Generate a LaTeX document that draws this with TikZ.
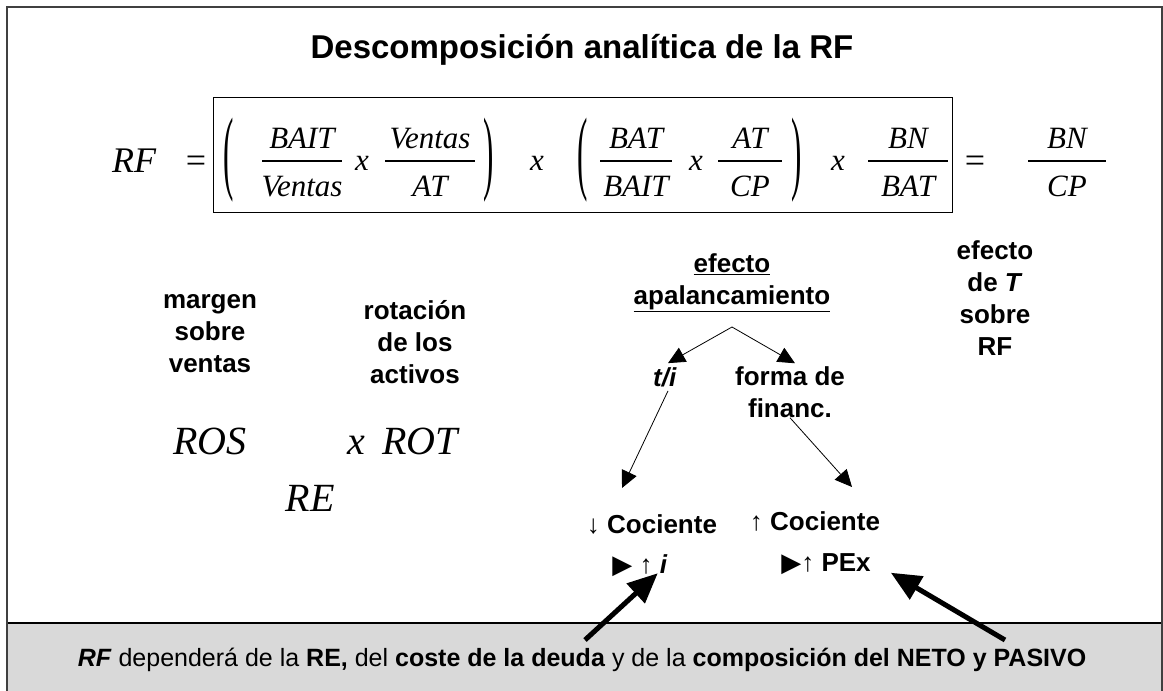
\documentclass[tikz,border=0pt]{standalone}
\usepackage{fontspec}
\setmainfont{Liberation Sans}
\newfontfamily\tms{Liberation Serif}
\newfontfamily\djv{DejaVu Sans}
\usetikzlibrary{arrows.meta}
\definecolor{bandgray}{HTML}{D9D9D9}
\definecolor{framegray}{HTML}{404040}
\tikzset{
  lbl/.style={font=\fontsize{26}{32}\selectfont\bfseries, align=center, inner sep=0pt},
  fml/.style={font=\fontsize{31}{34}\selectfont\tms\itshape, inner sep=0pt, anchor=base},
  big/.style={font=\fontsize{36}{40}\selectfont\tms\itshape, inner sep=0pt, anchor=base},
  bigup/.style={font=\fontsize{36}{40}\selectfont\tms, inner sep=0pt, anchor=base},
  rr/.style={font=\fontsize{40}{44}\selectfont\tms\itshape, inner sep=0pt, anchor=base},
  par/.style={font=\fontsize{31}{34}\selectfont\tms, inner sep=0pt},
  fbar/.style={line width=1.2pt},
  thinarrow/.style={line width=0.8pt, -{Triangle[length=17pt,width=16pt]}},
  thickarrow/.style={line width=5pt, -{Triangle[length=30pt,width=26pt]}},
}
\newcommand{\myfrac}[5]{%
  \node[fml] (#1n) at (#2,148) {#4};
  \node[fml] (#1d) at (#2,196) {#5};
  \draw[fbar] (#2-#3,161) -- (#2+#3,161);
}
\begin{document}
\begin{tikzpicture}[x=1pt,y=-1pt]
\useasboundingbox (0,0) rectangle (1163,691);
% grey band
\fill[bandgray] (7,623) rectangle (1163,691);
\draw[line width=2pt] (7,623) -- (1163,623);
% frame
\draw[line width=2pt, framegray] (7,691) -- (7,7) -- (1162,7) -- (1162,691);
% title
\node[font=\fontsize{33}{36}\selectfont\bfseries] (title) at (582,50) {Descomposición analítica de la RF};
% formula
\node[big] (rf) at (134,172) {RF};
\node[bigup] (eq1) at (196,172) {=};
\draw[line width=1pt] (213,97) rectangle (952,212);
\node[par] (p1) at (229,160) {\scalebox{1}[3.0]{(}};
\myfrac{f1}{302}{40}{BAIT}{Ventas}
\node[fml] (x1) at (362,170) {x};
\myfrac{f2}{430}{45}{Ventas}{AT}
\node[par] (p2) at (489,160) {\scalebox{1}[3.0]{)}};
\node[fml] (x2) at (537,170) {x};
\node[par] (p3) at (583,160) {\scalebox{1}[3.0]{(}};
\myfrac{f3}{636}{36}{BAT}{BAIT}
\node[fml] (x3) at (696,170) {x};
\myfrac{f4}{750}{32}{AT}{CP}
\node[par] (p4) at (797,160) {\scalebox{1}[3.0]{)}};
\node[fml] (x4) at (838,170) {x};
\myfrac{f5}{908}{40}{BN}{BAT}
\node[bigup] (eq2) at (975,172) {=};
\myfrac{f6}{1067}{39}{BN}{CP}
% labels
\node[lbl] (margen) at (210,334) {margen\\sobre\\ventas};
\node[lbl] (rot) at (415,342) {rotación\\de los\\activos};
\node[lbl] (efap) at (732,283) {\underline{efecto}\\\underline{apalancamiento}};
\node[lbl] (eft) at (995,298) {efecto\\de \textit{T}\\sobre\\RF};
\node[lbl] (ti) at (665,377) {\textit{t/i}};
\node[lbl] (forma) at (790,392) {forma de\\financ.};
\node[lbl] (cocd) at (652,524) {↓ Cociente};
\node[lbl] (cocu) at (815,521) {↑ Cociente};
\node[lbl] (pi) at (640,566) {{\djv ▶} ↑ \textit{i}};
\node[lbl] (pex) at (826,564) {{\djv ▶}↑ PEx};
% ROS ROT RE
\node[rr] (ros) at (210,454) {ROS};
\node[rr] (x5) at (356,454) {x};
\node[rr] (rot2) at (420,454) {ROT};
\node[rr] (re) at (310,511) {RE};
% thin arrows
\coordinate (apx) at (732,327);
\draw[thinarrow] (apx) -- ([xshift=3pt,yshift=4pt]ti.north);
\draw[thinarrow] (apx) -- ([xshift=5pt,yshift=3pt]forma.north);
\draw[thinarrow] ([xshift=3pt,yshift=-4pt]ti.south) -- ([xshift=-30pt,yshift=26pt]cocd.north);
\draw[thinarrow] (forma.south) -- ([xshift=37pt,yshift=24pt]cocu.north);
% bottom text
\node[font=\fontsize{25}{30}\selectfont] (bottom) at (582,660) {\textbf{\textit{RF}} dependerá de la \textbf{RE,} del \textbf{coste de la deuda} y de la \textbf{composición del NETO y PASIVO}};
% thick arrows
\coordinate (t1) at (585,640);
\coordinate (t2) at (1005,640);
\draw[thickarrow] (t1) -- ([xshift=-10pt,yshift=4pt]pi.south east);
\draw[thickarrow] (t2) -- ([xshift=20pt,yshift=2pt]pex.south east);
\end{tikzpicture}
\end{document}
